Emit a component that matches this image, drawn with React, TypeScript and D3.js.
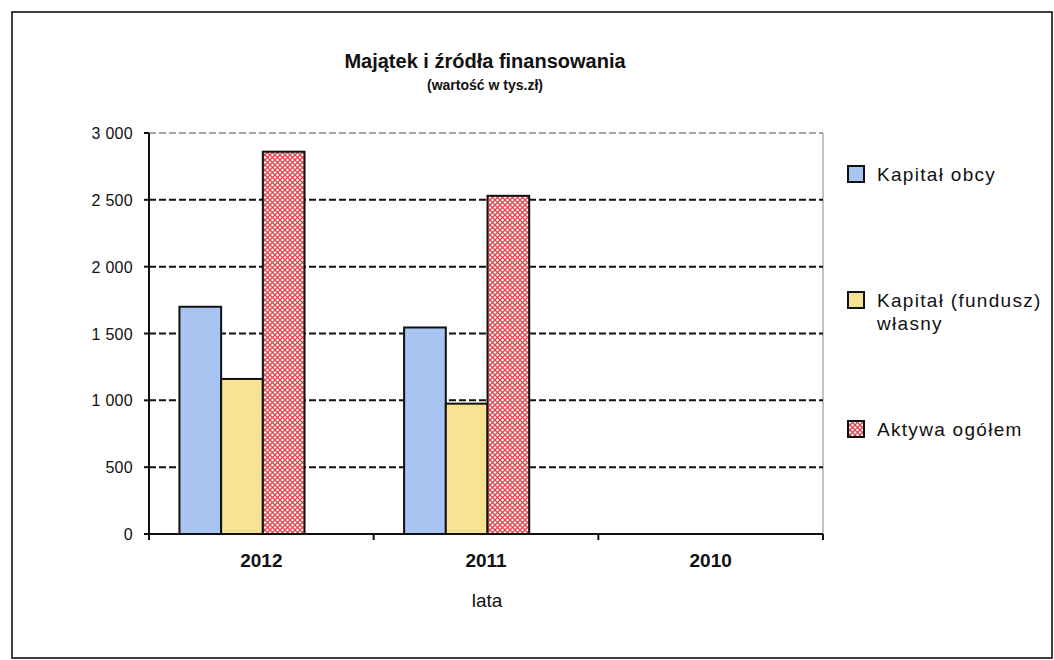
import React from "react";
import * as d3 from "d3";

const categories = ["2012", "2011", "2010"];
const seriesNames = ["Kapitał obcy", "Kapitał (fundusz) własny", "Aktywa ogółem"];
const kapitalObcy = [1700, 1545, 0];
const kapitalWlasny = [1160, 975, 0];
const aktywaOgolem = [2860, 2530, 0];
const yTicks = [0, 500, 1000, 1500, 2000, 2500, 3000];

const seriesValues = [kapitalObcy, kapitalWlasny, aktywaOgolem];
const fills = ["url(#blueTex)", "url(#yellowTex)", "url(#redPat)"];

export default function App() {
  const W = 1054, H = 660;
  const left = 149, right = 823, top = 133, bottom = 534;
  const x = d3.scaleBand<string>().domain(categories).range([left, right]).paddingInner(0).paddingOuter(0);
  const y = d3.scaleLinear().domain([0, 3000]).range([bottom, top]);
  const barW = 41.7;
  const fmt = (v: number) => d3.format(",")(v).replace(/,/g, " ");
  const font = "'Liberation Sans', Arial, sans-serif";

  const legendRows = [
    { lines: ["Kapitał obcy"], y: 174, fill: fills[0] },
    { lines: ["Kapitał (fundusz)", "własny"], y: 300, fill: fills[1] },
    { lines: ["Aktywa ogółem"], y: 429, fill: fills[2] },
  ];

  return (
    <svg width={W} height={H} style={{ position: "absolute", left: 0, top: 0, background: "#fff" }} fontFamily={font}>
      <defs>
        <pattern id="redPat" width="5" height="5" patternUnits="userSpaceOnUse">
          <rect width="5" height="5" fill="#fff" />
          <path d="M0,0 L5,5 M5,0 L0,5" stroke="#e2424a" strokeWidth="1.3" />
        </pattern>
        <pattern id="blueTex" width="4" height="4" patternUnits="userSpaceOnUse">
          <rect width="4" height="4" fill="#a8c4f0" />
          <rect x="1" y="1" width="1" height="1" fill="#9db9ea" />
          <rect x="3" y="2" width="1" height="1" fill="#b4ccf3" />
        </pattern>
        <pattern id="yellowTex" width="4" height="4" patternUnits="userSpaceOnUse">
          <rect width="4" height="4" fill="#f8e293" />
          <rect x="1" y="2" width="1" height="1" fill="#f1d985" />
          <rect x="3" y="0" width="1" height="1" fill="#fbe8a4" />
        </pattern>
      </defs>
      <rect x={12} y={12} width={1040} height={646} fill="#fff" stroke="#111" strokeWidth={1.6} />

      <text x={485} y={68} textAnchor="middle" fontSize={20} fontWeight="bold" fill="#111">Majątek i źródła finansowania</text>
      <text x={485} y={90} textAnchor="middle" fontSize={14} fontWeight="bold" fill="#111">(wartość w tys.zł)</text>

      {/* plot border top/right */}
      <line x1={left} x2={right} y1={top} y2={top} stroke="#888" strokeWidth={1.5} strokeDasharray="7,3" />
      <line x1={right} x2={right} y1={top} y2={bottom} stroke="#888" strokeWidth={1} />

      {/* gridlines */}
      {yTicks.filter(t => t > 0 && t < 3000).map(t => (
        <line key={t} x1={left} x2={right} y1={y(t)} y2={y(t)} stroke="#111" strokeWidth={2} strokeDasharray="7,3" />
      ))}

      {/* bars */}
      {categories.map((c, ci) => {
        const center = (x(c) as number) + x.bandwidth() / 2;
        return seriesValues.map((vals, si) => {
          const v = vals[ci];
          if (v <= 0) return null;
          const bx = center - 2 * barW + si * barW + 1.5;
          return (
            <rect key={c + si} x={bx} y={y(v)} width={barW} height={bottom - y(v)} fill={fills[si]} stroke="#111" strokeWidth={2} />
          );
        });
      })}

      {/* axes */}
      <line x1={left} x2={left} y1={top} y2={bottom} stroke="#111" strokeWidth={2} />
      <line x1={left} x2={right} y1={bottom} y2={bottom} stroke="#111" strokeWidth={2} />
      {yTicks.map(t => (
        <g key={t}>
          <line x1={left - 5} x2={left} y1={y(t)} y2={y(t)} stroke="#111" strokeWidth={2} />
          <text x={133} y={y(t) + 6} textAnchor="end" fontSize={16} letterSpacing={0.3} fill="#111">{fmt(t)}</text>
        </g>
      ))}
      {[...categories.map(c => x(c) as number), right].map((px, i) => (
        <line key={i} x1={px} x2={px} y1={bottom} y2={bottom + 6} stroke="#111" strokeWidth={2} />
      ))}
      {categories.map(c => (
        <text key={c} x={(x(c) as number) + x.bandwidth() / 2} y={567} textAnchor="middle" fontSize={19} fontWeight="bold" fill="#111">{c}</text>
      ))}
      <text x={487} y={607} textAnchor="middle" fontSize={19} fill="#111">lata</text>

      {/* legend */}
      {legendRows.map((r, i) => (
        <g key={i}>
          <rect x={848} y={r.y - 8} width={16} height={16} fill={r.fill} stroke="#111" strokeWidth={2} />
          {r.lines.map((ln, li) => (
            <text key={li} x={877} y={r.y + 7 + li * 23} fontSize={19} letterSpacing={1.3} fill="#111">{ln}</text>
          ))}
        </g>
      ))}
    </svg>
  );
}
